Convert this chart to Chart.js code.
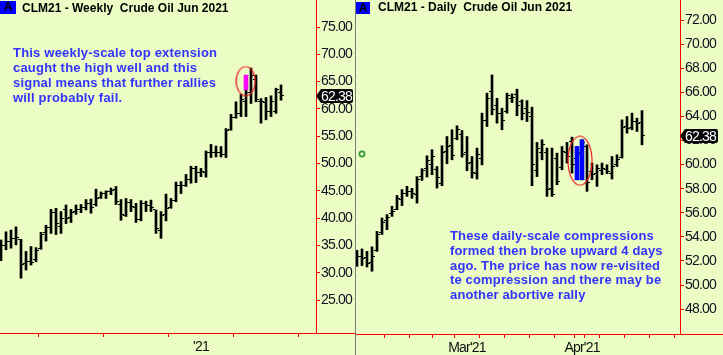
<!DOCTYPE html>
<html><head><meta charset="utf-8">
<script src="https://cdn.jsdelivr.net/npm/chart.js@4.4.1/dist/chart.umd.min.js"></script>
<style>
html,body{margin:0;padding:0;background:#ebfcc4;width:723px;height:355px;overflow:hidden;}
#wrap{position:relative;width:723px;height:355px;}
canvas{position:absolute;top:0;}
#cw{left:0;}
#cd{left:356px;}
.sep{position:absolute;left:355px;top:0;width:1px;height:355px;background:#7c7c7c;}
.abox{position:absolute;background:#0000ff;color:#000;font:bold 12px "Liberation Sans",Arial,sans-serif;text-align:center;}
.title{position:absolute;font:bold 12px "Liberation Sans",Arial,sans-serif;line-height:14px;color:#000;white-space:pre;}
.note{position:absolute;font:bold 13px "Liberation Sans",Arial,sans-serif;line-height:15px;color:#3333ff;white-space:pre;letter-spacing:0.2px;}
</style>
</head><body>
<div id="wrap">
<canvas id="cw" width="355" height="355"></canvas>
<canvas id="cd" width="367" height="355"></canvas>
<div class="sep"></div>
<div class="abox" style="left:0;top:1px;width:16px;height:13px;line-height:13px;">A</div>
<div class="title" style="left:22px;top:1px;">CLM21 - Weekly  Crude Oil Jun 2021</div>
<div class="abox" style="left:356px;top:2px;width:14px;height:12px;line-height:12px;">A</div>
<div class="title" style="left:378px;top:0px;">CLM21 - Daily  Crude Oil Jun 2021</div>
<div class="note" style="left:13px;top:45px;">This weekly-scale top extension
caught the high well and this
signal means that further rallies
will probably fail.</div>
<div class="note" style="left:450px;top:229px;line-height:14.8px;letter-spacing:0.15px;">These daily-scale compressions
formed then broke upward 4 days
ago. The price has now re-visited
te compression and there may be
another abortive rally</div>
</div>
<script>
// ---------- DATA ----------
const weeklyOpen  = [33.1,35.0,35.8,36.3,36.0,31.7,32.0,32.5,34.5,37.3,38.2,41.0,38.4,41.5,40.2,41.2,41.6,42.0,42.7,42.5,43.8,44.5,44.8,45.2,42.5,40.5,42.8,42.0,39.8,42.7,42.4,41.5,37.8,40.6,41.9,43.3,46.0,45.9,47.0,49.0,48.4,48.4,52.1,52.0,52.0,51.6,56.3,58.5,59.2,61.3,63.0,65.3,61.3,61.1,59.5,59.5,63.0];
const weeklyHigh  = [36.0,37.5,37.8,38.4,36.1,33.9,34.8,34.6,37.4,38.7,41.6,41.8,41.2,42.4,41.6,42.4,42.5,43.4,43.5,45.3,44.8,45.0,45.5,45.8,43.4,43.6,43.4,42.7,43.2,43.1,43.3,41.5,41.2,44.4,43.6,46.6,46.7,48.0,49.5,49.5,49.1,52.3,53.5,53.2,53.1,56.4,59.0,61.3,62.7,63.8,67.5,66.2,61.9,62.1,62.4,63.8,64.4];
const weeklyLow   = [32.2,34.2,34.5,35.1,29.0,30.5,31.4,32.0,34.3,35.8,37.2,37.0,37.2,39.0,39.2,40.7,41.0,41.5,40.9,42.2,43.6,43.6,44.3,42.5,39.6,40.3,41.2,39.2,39.5,41.2,41.2,37.2,36.3,39.5,41.8,43.0,44.5,45.8,46.4,46.5,47.6,47.5,51.1,51.2,51.2,51.1,56.1,58.3,58.6,58.6,61.0,61.3,57.4,58.0,58.6,59.2,61.6];
const weeklyClose = [35.0,35.8,36.3,36.4,31.5,32.0,31.8,34.0,37.0,38.3,41.0,39.0,40.0,40.0,41.0,41.6,42.0,42.7,42.0,43.6,44.5,44.8,45.1,43.0,40.6,42.8,42.1,39.7,42.7,42.3,42.0,38.1,40.5,41.8,43.3,46.0,45.9,47.0,49.0,48.4,48.5,52.0,52.1,52.0,51.6,56.0,58.5,59.2,61.8,63.0,66.2,61.8,61.3,59.5,61.3,63.5,62.38];
const weeklyYTicks = [25,30,35,40,45,50,55,60,65,70,75];
const weeklyXTicks = [1,14,27,40,53];
const weeklyXLabels = ['','','',"'21",''];
const weeklySignalIdx = [49];
const weeklySignalLow = [63.5];
const weeklySignalHigh = [66.2];

const dailyOpen  = [52.6,52.4,52.3,51.9,52.9,54.4,55.37,55.9,56.3,57.1,57.6,57.8,57.5,59.0,59.7,60.0,59.6,58.41,61.1,61.6,62.2,62.5,61.0,60.2,59.3,60.5,63.7,66.06,64.9,64.2,64.4,65.5,65.8,65.2,64.68,64.0,59.5,61.0,61.0,58.0,60.5,59.8,61.0,61.92,60.5,60.8,61.5,59.43,59.3,59.5,59.63,59.3,60.0,60.6,63.2,63.1,63.6,63.5];
const dailyHigh  = [52.88,53.0,52.8,53.17,54.46,55.57,55.85,56.54,57.44,57.92,58.2,58.03,59.0,59.66,60.73,61.23,59.84,61.56,62.33,62.89,63.22,62.83,62.33,60.67,61.37,64.27,65.93,67.44,65.5,64.68,65.93,65.87,66.26,65.37,65.31,64.77,61.84,62.06,61.37,61.37,60.95,61.5,61.84,62.28,61.5,62.06,61.64,60.13,59.98,60.13,59.98,60.67,60.81,63.71,63.99,64.27,63.85,64.48];
const dailyLow   = [51.56,51.62,51.5,51.15,52.8,54.2,54.6,55.7,56.26,56.6,57.36,57.2,56.8,58.69,58.97,59.16,58.05,58.25,60.07,60.4,62.06,60.62,59.49,58.88,58.8,59.98,63.16,64.13,63.44,62.89,64.27,65.15,64.05,63.71,63.57,58.25,59.0,60.4,57.36,57.36,58.33,59.57,60.13,59.3,58.74,58.74,57.78,58.74,58.19,59.16,59.24,58.8,59.84,60.54,62.61,62.89,62.75,61.64];
const dailyClose = [52.34,52.2,51.8,52.4,54.2,55.2,55.6,56.12,57.2,57.58,57.78,57.64,58.8,59.5,60.3,60.67,58.97,61.0,61.5,60.73,62.89,60.8,60.13,59.35,60.8,63.66,65.5,64.6,64.27,63.69,65.7,65.6,64.9,64.2,64.3,59.98,61.37,61.64,57.9,57.5,58.6,61.1,60.67,60.0,61.0,61.8,58.5,59.2,59.7,59.7,59.4,59.84,60.4,63.1,63.03,63.57,63.44,62.38];
const dailyYTicks = [48,50,52,54,56,58,60,62,64,66,68,70,72];
const dailyXTicks = [8,13,17,22,27,32,37,42,45,46,51,56,61];
const dailyXLabels = ['','','',"Mar'21",'','','','',"Apr'21",'','','',''];
const dailySignalIdx = [44,45];
const dailySignalLow = [58.74,58.74];
const dailySignalHigh = [61.5,62.06];
const dailyMarker = [{x:1, y:60.88}];

// ---------- helpers ----------
const AXFONT = '"Liberation Sans",Arial,sans-serif';
function mkTick(side){
  const w=8, c=document.createElement('canvas'); c.width=w; c.height=1;
  const g=c.getContext('2d'); g.fillStyle='#000';
  if(side==='L') g.fillRect(1,0,2,1); else g.fillRect(w-3,0,2,1);
  return c;
}
function mkEllipse(w,h,color){
  const c=document.createElement('canvas'); c.width=w; c.height=h;
  const g=c.getContext('2d'); g.strokeStyle=color; g.lineWidth=1.2;
  g.beginPath(); g.ellipse(w/2,h/2,w/2-1,h/2-1,0,0,Math.PI*2); g.stroke();
  return c;
}
const tickL=mkTick('L'), tickR=mkTick('R');

const narrowText = {
  id:'narrowText',
  beforeDraw(chart){ chart.ctx.letterSpacing = '-0.8px'; }
};
const axisExt = {
  id:'axisExt',
  afterDraw(chart){
    const {ctx, chartArea, scales:{x}} = chart;
    const y = Math.round(x.top - 0.5) + 0.5;
    ctx.save(); ctx.strokeStyle='#ff0000'; ctx.lineWidth=1;
    ctx.beginPath(); ctx.moveTo(chartArea.right, y); ctx.lineTo(chart.width, y); ctx.stroke();
    ctx.restore();
  }
};
const priceTag = {
  id:'priceTag',
  afterDraw(chart, args, opts){
    const {ctx, chartArea, scales:{y}} = chart;
    const py = Math.round(y.getPixelForValue(opts.value));
    const x0 = chartArea.right, w = opts.w, h = 7;
    ctx.save();
    ctx.fillStyle='#050505';
    ctx.beginPath();
    ctx.moveTo(x0, py);
    ctx.lineTo(x0+5, py-h);
    ctx.lineTo(x0+w-2, py-h);
    ctx.quadraticCurveTo(x0+w, py-h, x0+w, py-h+2);
    ctx.lineTo(x0+w, py+h-2);
    ctx.quadraticCurveTo(x0+w, py+h, x0+w-2, py+h);
    ctx.lineTo(x0+5, py+h);
    ctx.closePath(); ctx.fill();
    ctx.fillStyle='#ffffff';
    ctx.font='14px '+AXFONT;
    ctx.letterSpacing='-0.8px';
    ctx.textBaseline='middle'; ctx.textAlign='left';
    ctx.fillText(opts.value.toFixed(2), x0+5, py+1);
    ctx.restore();
  }
};

function ohlcChart(el, c){
  const idx = c.open.map((_, i) => i);
  const datasets = [
    {type:'bar', data: idx.map(i=>({x:i, y:[c.low[i], c.high[i]]})), backgroundColor:'#000', borderWidth:0, barThickness:2, grouped:false, order:5},
    {type:'line', showLine:false, data: idx.map(i=>({x:i, y:c.open[i]})), pointStyle:tickL, pointRadius:3, pointHoverRadius:3, order:4},
    {type:'line', showLine:false, data: idx.map(i=>({x:i, y:c.close[i]})), pointStyle:tickR, pointRadius:3, pointHoverRadius:3, order:4},
    {type:'bar', data: c.sigIdx.map((v,j)=>({x:v, y:[c.sigLow[j], c.sigHigh[j]]})), backgroundColor:c.sigColor, borderWidth:0, barThickness:4, grouped:false, order:2},
    {type:'line', showLine:false, data:[c.ell], pointStyle:mkEllipse(c.ellW, c.ellH, '#ee2222'), pointRadius:5, order:1, clip:false}
  ];
  if (c.marker) datasets.push({type:'line', showLine:false, data:c.marker, pointStyle:'circle', pointRadius:2.6, borderColor:'#2f9a2f', backgroundColor:'rgba(0,0,0,0)', pointBorderWidth:1.6, order:0});
  return new Chart(el, {
    type:'bar',
    data:{datasets},
    plugins:[narrowText, axisExt, priceTag],
    options:{
      responsive:false, animation:false, devicePixelRatio:1,
      layout:{padding:0, autoPadding:false},
      plugins:{legend:{display:false}, tooltip:{enabled:false}, priceTag:{value:c.close[c.close.length-1], w:c.tagW}},
      scales:{
        x:{type:'linear', min:c.xMin, max:c.xMax, offset:false, position:'bottom',
          grid:{display:true, drawOnChartArea:false, drawTicks:true, tickLength:4, tickColor:'#ff0000', tickWidth:1},
          border:{display:true, color:'#ff0000', width:1},
          ticks:{autoSkip:false, maxRotation:0, minRotation:0, padding:2, color:'#111', font:{family:AXFONT, size:14},
            callback:(v,i)=>c.xLabels[i]},
          afterBuildTicks:s=>{ s.ticks = c.xTicks.map(v=>({value:v})); },
          afterFit:s=>{ s.height = c.xH; s.paddingLeft=0; s.paddingRight=0; }
        },
        y:{type:'linear', position:'right', min:c.yMin, max:c.yMax,
          grid:{display:true, drawOnChartArea:false, drawTicks:true, tickLength:4, tickColor:'#ff0000', tickWidth:1},
          border:{display:true, color:'#ff0000', width:1},
          ticks:{padding:1, color:'#111122', font:{family:AXFONT, size:14}, callback:v=>Number(v).toFixed(2)},
          afterBuildTicks:s=>{ s.ticks = c.yTicks.map(v=>({value:v})); },
          afterFit:s=>{ s.width = c.yW; s.paddingTop=0; s.paddingBottom=0; }
        }
      }
    }
  });
}

ohlcChart(document.getElementById('cw'), {
  open:weeklyOpen, high:weeklyHigh, low:weeklyLow, close:weeklyClose,
  sigIdx:weeklySignalIdx, sigLow:weeklySignalLow, sigHigh:weeklySignalHigh, sigColor:'#ff00ff',
  ell:{x:48.95, y:65.1}, ellW:21, ellH:31,
  xMin:-0.2, xMax:63.0, yMin:18.96, yMax:79.95,
  xTicks:weeklyXTicks, xLabels:weeklyXLabels, yTicks:weeklyYTicks,
  xH:22, yW:39, tagW:37
});
ohlcChart(document.getElementById('cd'), {
  open:dailyOpen, high:dailyHigh, low:dailyLow, close:dailyClose,
  sigIdx:dailySignalIdx, sigLow:dailySignalLow, sigHigh:dailySignalHigh, sigColor:'#0000ff',
  ell:{x:44.6, y:60.32}, ellW:26, ellH:51,
  xMin:-0.2, xMax:64.6, yMin:45.94, yMax:73.66,
  xTicks:dailyXTicks, xLabels:dailyXLabels, yTicks:dailyYTicks,
  xH:21, yW:43, tagW:38, marker:dailyMarker
});
</script>
</body></html>
